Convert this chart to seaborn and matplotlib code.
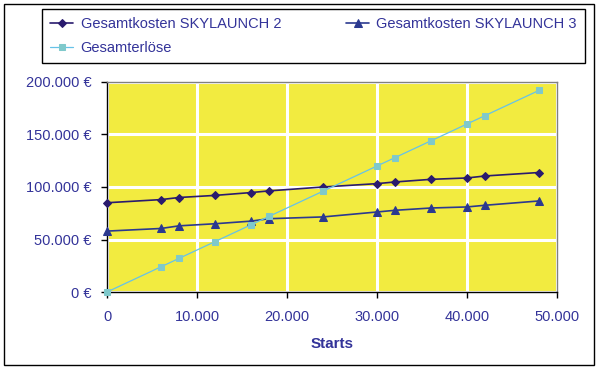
import numpy as np
import pandas as pd
import matplotlib
matplotlib.use("Agg")
import matplotlib.pyplot as plt
from matplotlib.ticker import FuncFormatter, MultipleLocator
from matplotlib.patches import Rectangle
import seaborn as sns

# Daten
starts = [0, 6000, 8000, 12000, 16000, 18000, 24000, 30000, 32000, 36000, 40000, 42000, 48000]
kosten_sl2 = [85000, 88000, 90000, 92000, 94700, 96300, 100000, 103200, 104800, 107300, 108600, 110500, 113800]
kosten_sl3 = [58000, 60500, 63000, 65000, 67500, 69800, 71500, 76200, 77800, 80000, 81000, 82600, 86700]
erloese = [0, 24000, 32000, 48000, 64000, 72000, 96000, 120000, 128000, 144000, 160000, 168000, 192000]

labels = ["Gesamtkosten SKYLAUNCH 2", "Gesamtkosten SKYLAUNCH 3", "Gesamterlöse"]

TEXT = "#333399"
YELLOW = "#F2EB40"

sns.set_theme(style="white")
plt.rcParams["font.family"] = ["Liberation Sans", "DejaVu Sans"]

fig = plt.figure(figsize=(6.0, 3.73), dpi=100)
fig.patch.set_facecolor("white")
ax = fig.add_axes([107 / 600, 1 - 292 / 373, 450 / 600, 210 / 373])
ax.set_facecolor(YELLOW)

sns.lineplot(x=starts, y=kosten_sl2, ax=ax, color="#2A1B6E", marker="D",
             markersize=4.5, markeredgecolor="#2A1B6E", linewidth=1.2,
             label=labels[0], clip_on=False, zorder=4)
sns.lineplot(x=starts, y=kosten_sl3, ax=ax, color="#2B3990", marker="^",
             markersize=6, markeredgecolor="#2B3990", linewidth=1.2,
             label=labels[1], clip_on=False, zorder=4)
sns.lineplot(x=starts, y=erloese, ax=ax, color="#66C2E8", marker="s",
             markersize=5, markerfacecolor="#7FC9CB", markeredgecolor="#7FC9CB",
             linewidth=0.9, label=labels[2], clip_on=False, zorder=4)

ax.set_xlim(0, 50000)
ax.set_ylim(0, 200000)
ax.xaxis.set_major_locator(MultipleLocator(10000))
ax.yaxis.set_major_locator(MultipleLocator(50000))

def de_num(v):
    return f"{int(round(v)):,}".replace(",", ".")

ax.xaxis.set_major_formatter(FuncFormatter(lambda v, p: de_num(v)))
ax.yaxis.set_major_formatter(FuncFormatter(lambda v, p: de_num(v) + " €"))

ax.grid(True, color="white", linewidth=2.2)
ax.set_axisbelow(True)

for side in ["left", "bottom"]:
    ax.spines[side].set_color("black")
    ax.spines[side].set_linewidth(1.0)
for side in ["top", "right"]:
    ax.spines[side].set_color("#808080")
    ax.spines[side].set_linewidth(1.0)

ax.tick_params(axis="both", direction="out", length=4, width=1, color="black",
               labelsize=10.5, labelcolor=TEXT, pad=7)
ax.tick_params(axis="x", pad=9)
ax.tick_params(bottom=True, left=True)

ax.set_xlabel("Starts", fontsize=11, fontweight="bold", color=TEXT, labelpad=9)
ax.set_ylabel("")

# Legende: Reihe 1 = SKYLAUNCH 2 / 3, Reihe 2 = Erlöse
handles, lbls = ax.get_legend_handles_labels()
ax.get_legend().remove()
order = [0, 2, 1]
leg = fig.legend([handles[i] for i in order], [lbls[i] for i in order], ncol=2,
                 loc="upper left", bbox_to_anchor=(42 / 600, 1 - 66 / 373, 543 / 600, 57 / 373),
                 mode="expand", borderaxespad=0, fontsize=10.5, frameon=True,
                 fancybox=False, framealpha=1, edgecolor="black",
                 handlelength=1.6, handletextpad=0.5, labelspacing=0.7,
                 borderpad=0.55, columnspacing=1.0, markerscale=0.85)
leg.get_frame().set_linewidth(1.0)
for t in leg.get_texts():
    t.set_color(TEXT)

# äußerer Rahmen
fig.patches.append(Rectangle((4 / 600, 1 - 365 / 373), 590 / 600, 361 / 373,
                             transform=fig.transFigure, fill=False,
                             edgecolor="black", linewidth=1.0))

fig.savefig("out.png", dpi=100)
